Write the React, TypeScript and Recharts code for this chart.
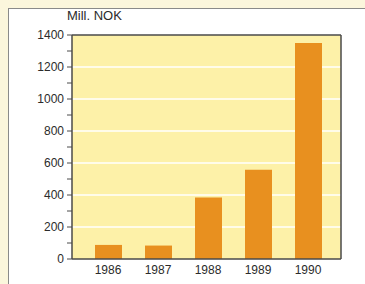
import React from "react";
import { BarChart, Bar, XAxis, YAxis, CartesianGrid, ReferenceLine } from "recharts";

const years = ["1986", "1987", "1988", "1989", "1990"];
const values = [88, 84, 385, 558, 1350];
const yTicks = [0, 100, 200, 300, 400, 500, 600, 700, 800, 900, 1000, 1100, 1200, 1300, 1400];
const gridValues = [200, 400, 600, 800, 1000, 1200];

const data = years.map((year, i) => ({ year, value: values[i] }));

const AXIS = "#4a4a4a";
const TEXT = "#2b2b2b";
const FONT = "'Liberation Sans', Arial, sans-serif";

export default function App() {
  return (
    <div style={{ position: "absolute", left: 0, top: 0, width: 365, height: 284, overflow: "hidden", background: "#fbf6dc" }}>
      {/* white panel with a thin grey frame */}
      <div style={{ position: "absolute", left: 8, top: 8, width: 370, height: 290, background: "#ffffff", border: "1px solid #8a8a8a" }} />
      <div style={{ position: "absolute", left: 67, top: 8, fontFamily: FONT, fontSize: 13, color: TEXT }}>Mill. NOK</div>
      <div style={{ position: "absolute", left: 0, top: 0 }}>
        <BarChart width={365} height={284} data={data} margin={{ top: 35, right: 24, left: 32, bottom: 5 }}>
          <CartesianGrid fill="#fdf1a8" stroke="#ffffff" strokeWidth={1.5} vertical={false} horizontalValues={gridValues} />
          {/* right edge of the plot frame */}
          <CartesianGrid
            horizontal={false}
            stroke={AXIS}
            strokeWidth={1.5}
            verticalCoordinatesGenerator={({ offset }: any) => [offset.left + offset.width]}
          />
          <XAxis
            dataKey="year"
            axisLine={{ stroke: AXIS, strokeWidth: 1.5 }}
            tickLine={false}
            tickSize={0}
            tickMargin={6}
            height={20}
            padding={{ left: 11, right: 8 }}
            tick={{ fontSize: 12, fill: TEXT, fontFamily: FONT }}
          />
          <YAxis
            domain={[0, 1400]}
            ticks={yTicks}
            interval={0}
            width={40}
            axisLine={{ stroke: AXIS, strokeWidth: 1.5 }}
            tickLine={{ stroke: AXIS }}
            tickSize={5}
            tickMargin={3}
            tickFormatter={(v: number) => (v % 200 === 0 ? String(v) : "")}
            tick={{ fontSize: 12, fill: TEXT, fontFamily: FONT }}
          />
          <Bar dataKey="value" fill="#e8901f" barSize={27} isAnimationActive={false} />
          <ReferenceLine y={1400} stroke={AXIS} strokeWidth={1.5} />
        </BarChart>
      </div>
    </div>
  );
}
